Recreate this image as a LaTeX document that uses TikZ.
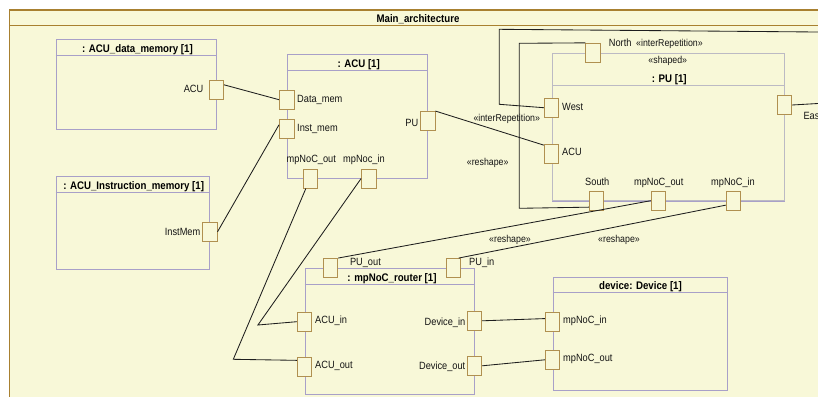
\documentclass[tikz,border=0pt]{standalone}
\usepackage{fontspec}
\setmainfont{Liberation Sans}[FakeStretch=0.88]
\definecolor{bgc}{RGB}{248,248,216}
\definecolor{framec}{RGB}{168,128,48}
\definecolor{boxc}{RGB}{168,160,200}
\definecolor{pubox}{RGB}{188,186,196}
\definecolor{portc}{RGB}{176,144,80}
\definecolor{linec}{RGB}{30,30,30}
\definecolor{txt}{RGB}{20,20,20}
\begin{document}
\begin{tikzpicture}[x=1pt,y=-1pt,
  lbl/.style={inner sep=0, font=\fontsize{10.5}{12}\selectfont, text=txt},
  st/.style={inner sep=0, font=\fontsize{10}{12}\selectfont, text=txt},
  ttl/.style={inner sep=0, anchor=base, font=\fontsize{11}{13}\selectfont\bfseries, text=black},
  port/.style={draw=portc, fill=bgc, line width=0.9pt, minimum width=14.5pt, minimum height=19pt, inner sep=0},
  box/.style={draw=boxc, line width=0.9pt, inner sep=0, anchor=north west},
  conn/.style={draw=linec, line width=0.85pt}]
\useasboundingbox (0,0) rectangle (818,396);
\clip (0,0) rectangle (818,396);
\fill[white] (0,0) rectangle (818,396);
% frame
\draw[draw=framec, fill=bgc, line width=1.2pt] (9.5,10) rectangle (840,420);
\draw[framec, line width=1.2pt] (9.5,25.7) -- (840,25.7);
\node[ttl] (mtitle) at (418,22.3) {Main\_architecture};

% boxes
\node[box, minimum width=160.6pt, minimum height=90pt] (dm) at (55.7,39.3) {};
\draw[boxc, line width=0.9pt] ([yshift=-16pt]dm.north west) -- ([yshift=-16pt]dm.north east);
\node[ttl] (dmt) at (137.5,52.7) {: ACU\_data\_memory [1]};

\node[box, minimum width=139.7pt, minimum height=124pt] (acu) at (287.3,54.3) {};
\draw[boxc, line width=0.9pt] ([yshift=-16pt]acu.north west) -- ([yshift=-16pt]acu.north east);
\node[ttl] (acut) at (358.7,67.7) {: ACU [1]};

\node[box, minimum width=153.6pt, minimum height=93pt] (im) at (55.7,176) {};
\draw[boxc, line width=0.9pt] ([yshift=-16.3pt]im.north west) -- ([yshift=-16.3pt]im.north east);
\node[ttl] (imt) at (133.7,189.3) {: ACU\_Instruction\_memory [1]};

\node[box, draw=pubox, minimum width=232pt, minimum height=147pt] (pu) at (552,53.3) {};
\draw[pubox, line width=0.9pt] ([yshift=-32pt]pu.north west) -- ([yshift=-32pt]pu.north east);
\draw[boxc, line width=0.9pt] (pu.south west) -- (pu.south east);
\node[st, anchor=base] (pus) at (667.8,63.3) {«shaped»};
\node[ttl] (put) at (669.3,82.7) {: PU [1]};

\node[box, minimum width=169.8pt, minimum height=125.7pt] (rt) at (304.5,268.3) {};
\draw[boxc, line width=0.9pt] ([yshift=-16pt]rt.north west) -- ([yshift=-16pt]rt.north east);
\node[ttl] (rtt) at (392,281.7) {: mpNoC\_router [1]};

\node[box, minimum width=174pt, minimum height=113.6pt] (dev) at (552.5,276.7) {};
\draw[boxc, line width=0.9pt] ([yshift=-15.6pt]dev.north west) -- ([yshift=-15.6pt]dev.north east);
\node[ttl] (devt) at (640.5,289.3) {device: Device [1]};

% ports
\node[port] (pDMacu) at (216.3,89.8) {};
\node[port] (pAdata) at (286.7,99.7) {};
\node[port] (pAinst) at (286.7,128.7) {};
\node[port] (pApu) at (427.7,121) {};
\node[port] (pAout) at (310.3,178.5) {};
\node[port] (pAin) at (368.8,178.5) {};
\node[port] (pIMinst) at (209.8,231.8) {};
\node[port] (pPUnorth) at (593,52.8) {};
\node[port] (pPUwest) at (551.5,107.7) {};
\node[port] (pPUacu) at (551.5,153.7) {};
\node[port] (pPUeast) at (784.5,105) {};
\node[port] (pPUsouth) at (596.5,200.7) {};
\node[port] (pPUout) at (658.5,200.7) {};
\node[port] (pPUin) at (733.5,200.7) {};
\node[port] (pRpuout) at (330.5,268) {};
\node[port] (pRpuin) at (453.2,268) {};
\node[port] (pRacuin) at (304.5,321.7) {};
\node[port] (pRacuout) at (304.5,366.8) {};
\node[port] (pRdin) at (474.5,320.8) {};
\node[port] (pRdout) at (474.5,365.8) {};
\node[port] (pDin) at (552.5,321.7) {};
\node[port] (pDout) at (552.5,359.8) {};

% labels
\node[lbl, anchor=base east] (l1) at (203.5,92) {ACU};
\node[lbl, anchor=base west] (l2) at (297,102) {Data\_mem};
\node[lbl, anchor=base west] (l3) at (297,131) {Inst\_mem};
\node[lbl, anchor=base east] (l4) at (418.5,126.5) {PU};
\node[lbl, anchor=base] (l5) at (311.3,162) {mpNoC\_out};
\node[lbl, anchor=base] (l6) at (364,162) {mpNoc\_in};
\node[lbl, anchor=base east] (l7) at (200.5,235) {InstMem};
\node[lbl, anchor=base west] (l8) at (608.7,46.7) {North};
\node[st, anchor=base west] (l9) at (636,46.7) {«interRepetition»};
\node[lbl, anchor=base west] (l10) at (562,110) {West};
\node[st, anchor=base west] (l11) at (473.3,121.7) {«interRepetition»};
\node[lbl, anchor=base west] (l12) at (562,155.7) {ACU};
\node[st, anchor=base west] (l13) at (466.7,165.7) {«reshape»};
\node[lbl, anchor=base] (l14) at (597.3,185) {South};
\node[lbl, anchor=base] (l15) at (658.7,185) {mpNoC\_out};
\node[lbl, anchor=base] (l16) at (733,185) {mpNoC\_in};
\node[lbl, anchor=base west] (l17) at (803.3,119.3) {East};
\node[st, anchor=base] (l18) at (510,242.7) {«reshape»};
\node[st, anchor=base] (l19) at (619,242.7) {«reshape»};
\node[lbl, anchor=base west] (l20) at (349.8,265.3) {PU\_out};
\node[lbl, anchor=base west] (l21) at (469,265.3) {PU\_in};
\node[lbl, anchor=base west] (l22) at (315,323.3) {ACU\_in};
\node[lbl, anchor=base west] (l23) at (315,368.3) {ACU\_out};
\node[lbl, anchor=base east] (l24) at (465.5,325.7) {Device\_in};
\node[lbl, anchor=base east] (l25) at (465.5,369.3) {Device\_out};
\node[lbl, anchor=base west] (l26) at (563,323.3) {mpNoC\_in};
\node[lbl, anchor=base west] (l27) at (563,361.7) {mpNoC\_out};

% connectors
\draw[conn] (pDMacu.33) -- (pAdata.west);
\draw[conn] (pIMinst.east) -- (pAinst.153);
\draw[conn] (pApu.north east) -- (pPUacu.132);
\draw[conn] (pPUwest.west) -- (499.3,104.3) -- (499.3,29.3) -- (840,32.2) -- (840,102.2) -- (pPUeast.east);
\draw[conn] (pPUnorth.north west) -- (519.3,43.3) -- (519.3,208.3) -- (pPUsouth.220);
\draw[conn] (pPUout.west) -- (pRpuout.north east);
\draw[conn] (pPUin.210) -- (pRpuin.61);
\draw[conn] (pAin.west) -- (257.9,325) -- (pRacuin.west);
\draw[conn] (pAout.246) -- (233.3,359.3) -- (pRacuout.140);
\draw[conn] (pRdin.east) -- (pDin.158);
\draw[conn] (pRdout.east) -- (pDout.west);
\end{tikzpicture}
\end{document}
